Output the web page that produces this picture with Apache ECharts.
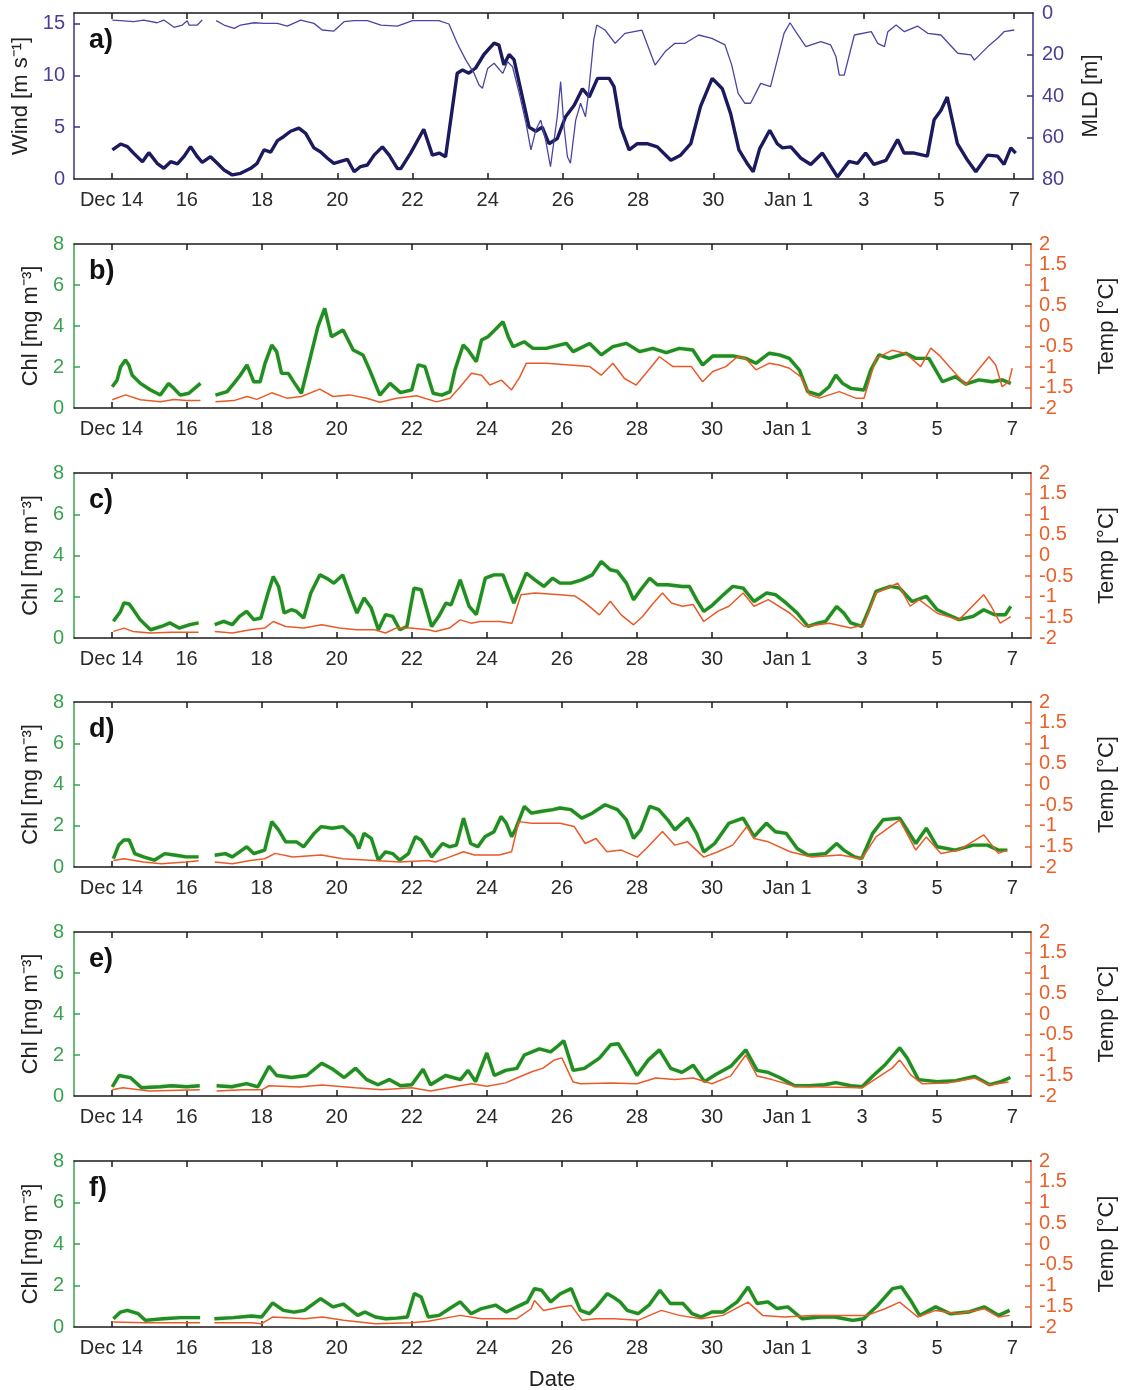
<!DOCTYPE html>
<html><head><meta charset="utf-8">
<script src="https://cdn.jsdelivr.net/npm/echarts@6/dist/echarts.min.js"></script>
<style>html,body{margin:0;padding:0;background:#fff}#chart{width:1126px;height:1390px}</style>
</head><body><div id="chart"></div>
<script>
// x values are days counted from Dec 1 (Jan 1 = 32)
const dayTicks = [14,16,18,20,22,24,26,28,30,32,34,36,38];
const windTicks = [0,5,10,15];
const mldTicks = [0,20,40,60,80];
const chlTicks = [0,2,4,6,8];
const tempTicks = [-2,-1.5,-1,-0.5,0,0.5,1,1.5,2];
const panelNames = ['a)','b)','c)','d)','e)','f)'];

const wind = [[14.02,2.8],[14.24,3.37],[14.42,3.12],[14.59,2.47],[14.82,1.67],[14.99,2.54],[15.21,1.51],[15.39,1.03],[15.57,1.67],[15.75,1.45],[15.92,2.15],[16.1,3.12],[16.28,2.15],[16.41,1.6],[16.63,2.15],[16.81,1.51],[16.99,0.87],[17.21,0.39],[17.43,0.55],[17.7,1.03],[17.87,1.51],[18.05,2.8],[18.23,2.6],[18.41,3.7],[18.58,4.1],[18.76,4.6],[18.98,4.9],[19.16,4.4],[19.38,3.0],[19.56,2.6],[19.74,2.0],[19.91,1.5],[20.09,1.7],[20.27,1.9],[20.45,0.7],[20.62,1.2],[20.8,1.35],[20.98,2.3],[21.2,3.1],[21.38,2.3],[21.6,1.0],[21.69,1.0],[21.95,2.5],[22.3,4.8],[22.53,2.3],[22.71,2.5],[22.88,2.15],[23.19,10.2],[23.33,10.5],[23.5,10.2],[23.68,10.7],[23.9,12.0],[24.17,13.1],[24.3,12.9],[24.43,11.0],[24.57,12.0],[24.7,11.5],[24.88,8.6],[25.1,5.0],[25.28,4.6],[25.45,5.0],[25.63,3.4],[25.85,3.9],[26.07,6.0],[26.3,7.1],[26.52,8.7],[26.7,7.9],[26.92,9.7],[27.23,9.7],[27.36,8.9],[27.54,5.0],[27.76,2.8],[27.98,3.4],[28.24,3.4],[28.51,3.1],[28.87,1.8],[29.13,2.3],[29.4,3.4],[29.66,7.0],[29.97,9.7],[30.24,8.7],[30.46,6.3],[30.68,2.8],[30.9,1.5],[31.06,0.7],[31.23,2.9],[31.5,4.7],[31.7,3.4],[31.84,3.0],[32.06,3.1],[32.33,2.0],[32.59,1.4],[32.9,2.5],[33.3,0.2],[33.61,1.7],[33.83,1.5],[34.05,2.5],[34.27,1.4],[34.59,1.8],[34.9,3.8],[35.07,2.5],[35.34,2.5],[35.69,2.2],[35.87,5.7],[36.05,6.6],[36.22,7.9],[36.49,3.4],[36.76,1.8],[36.98,0.7],[37.29,2.3],[37.56,2.2],[37.73,1.4],[37.91,3.0],[38.04,2.5]];

const mld = [[14.02,3.4],[14.24,3.7],[14.59,4.2],[14.85,3.4],[15.21,4.7],[15.39,3.4],[15.66,6.9],[15.88,5.8],[16.01,3.7],[16.06,5.8],[16.28,5.8],[16.41,3.4],[16.6,null],[16.78,3.7],[16.99,5.8],[17.26,7.4],[17.43,5.8],[17.79,4.7],[18.05,5.0],[18.41,5.0],[18.67,6.3],[19.03,3.4],[19.38,5.0],[19.6,8.2],[19.91,8.7],[20.18,4.2],[20.45,3.7],[20.8,3.7],[21.16,5.8],[21.6,6.3],[22.0,3.7],[22.7,3.7],[22.97,5.3],[23.19,14.6],[23.42,22.7],[23.64,29.1],[23.77,34.7],[23.86,36.3],[24.0,26.7],[24.17,24.2],[24.4,29.1],[24.53,23.5],[24.66,25.9],[24.84,38.7],[25.02,53.2],[25.15,66.0],[25.28,56.4],[25.41,51.6],[25.54,61.2],[25.67,74.1],[25.85,50],[25.94,33.1],[26.03,54.8],[26.12,69.3],[26.2,72.4],[26.34,51.6],[26.47,43.5],[26.6,50],[26.68,38.7],[26.82,13],[26.9,5.8],[27.12,8.2],[27.39,14.6],[27.65,9.8],[28.1,8.2],[28.45,25.1],[28.72,18.6],[28.98,14.6],[29.25,14.6],[29.61,10.6],[29.96,12.2],[30.31,15.4],[30.49,25.1],[30.66,38.7],[30.84,43.5],[30.99,43.5],[31.26,33.9],[31.52,35.5],[31.7,22.7],[31.88,9.8],[32.04,4.7],[32.19,9.0],[32.46,16.2],[32.86,13.8],[33.12,15.4],[33.26,21],[33.35,29.9],[33.48,29.9],[33.75,10.6],[34.2,9.0],[34.37,14.6],[34.55,16.2],[34.64,9.0],[34.86,5.8],[35.08,9.0],[35.43,6.3],[35.7,9.8],[36.05,10.6],[36.5,19.4],[36.85,20.2],[36.94,22.7],[37.3,16.2],[37.56,12.2],[37.73,9.0],[38.0,8.2]];

const chlB = [[14.02,1.04],[14.15,1.37],[14.24,2.0],[14.37,2.34],[14.46,2.1],[14.55,1.6],[14.77,1.2],[15.04,0.88],[15.3,0.63],[15.52,1.2],[15.66,0.96],[15.83,0.63],[16.06,0.72],[16.37,1.2],[16.6,null],[16.77,0.63],[17.08,0.8],[17.26,1.2],[17.43,1.6],[17.61,2.1],[17.79,1.28],[17.96,1.28],[18.09,2.18],[18.27,3.07],[18.4,2.75],[18.53,1.69],[18.71,1.69],[18.88,1.2],[19.06,0.72],[19.28,2.34],[19.5,3.97],[19.68,4.86],[19.86,3.48],[20.17,3.8],[20.44,2.83],[20.7,2.59],[20.88,1.85],[21.15,0.63],[21.42,1.2],[21.7,0.75],[22.0,0.88],[22.17,2.1],[22.35,2.02],[22.57,0.72],[22.8,0.63],[23.02,0.8],[23.15,1.85],[23.37,3.07],[23.5,2.83],[23.72,2.26],[23.86,3.32],[24.03,3.48],[24.21,3.8],[24.43,4.21],[24.57,3.48],[24.7,2.99],[25.0,3.23],[25.23,2.91],[25.58,2.91],[26.12,3.15],[26.3,2.75],[26.74,3.15],[27.05,2.59],[27.36,2.99],[27.72,3.15],[28.07,2.75],[28.42,2.91],[28.78,2.7],[29.13,2.91],[29.49,2.83],[29.75,2.1],[30.02,2.54],[30.55,2.54],[30.9,2.42],[31.17,2.18],[31.52,2.67],[31.79,2.59],[32.06,2.42],[32.33,1.85],[32.55,0.8],[32.86,0.63],[33.12,1.04],[33.3,1.6],[33.48,1.2],[33.7,0.96],[34.05,0.88],[34.23,1.85],[34.45,2.59],[34.72,2.42],[35.16,2.67],[35.43,2.42],[35.78,2.42],[36.14,1.28],[36.49,1.53],[36.76,1.17],[37.11,1.37],[37.47,1.28],[37.73,1.37],[37.96,1.2]];
const tempB = [[14.02,-1.8],[14.37,-1.68],[14.77,-1.8],[15.3,-1.85],[15.66,-1.79],[16.0,-1.82],[16.37,-1.82],[16.6,null],[16.77,-1.85],[17.26,-1.82],[17.61,-1.72],[17.87,-1.79],[18.27,-1.63],[18.67,-1.76],[19.06,-1.72],[19.55,-1.54],[19.9,-1.72],[20.35,-1.68],[20.8,-1.76],[21.15,-1.86],[21.6,-1.76],[22.13,-1.7],[22.66,-1.85],[23.02,-1.76],[23.33,-1.44],[23.59,-1.15],[23.86,-1.2],[24.08,-1.44],[24.39,-1.32],[24.66,-1.56],[24.88,-1.24],[25.05,-0.91],[25.58,-0.91],[26.21,-0.95],[26.74,-0.99],[27.05,-1.2],[27.36,-0.91],[27.67,-1.28],[27.98,-1.44],[28.24,-1.15],[28.6,-0.75],[28.96,-0.99],[29.45,-0.99],[29.75,-1.36],[30.02,-1.11],[30.37,-0.99],[30.68,-0.75],[30.9,-0.79],[31.17,-1.07],[31.52,-0.91],[31.79,-0.95],[32.06,-1.03],[32.37,-1.24],[32.6,-1.68],[32.86,-1.76],[33.39,-1.6],[33.83,-1.76],[34.05,-1.76],[34.37,-0.79],[34.81,-0.59],[35.16,-0.67],[35.56,-0.99],[35.83,-0.54],[36.05,-0.71],[36.32,-0.99],[36.76,-1.44],[37.02,-1.15],[37.38,-0.75],[37.56,-0.95],[37.73,-1.48],[37.91,-1.36],[38.0,-1.03]];

const chlC = [[14.05,0.81],[14.24,1.29],[14.33,1.7],[14.47,1.65],[14.57,1.4],[14.76,0.89],[15.04,0.4],[15.33,0.56],[15.56,0.73],[15.8,0.48],[16.09,0.65],[16.32,0.73],[16.55,null],[16.75,0.65],[16.99,0.81],[17.22,0.65],[17.41,1.05],[17.6,1.29],[17.79,0.89],[17.98,0.97],[18.17,2.18],[18.31,2.98],[18.45,2.5],[18.6,1.21],[18.79,1.37],[18.93,1.29],[19.12,0.97],[19.31,2.18],[19.55,3.06],[19.73,2.9],[19.92,2.66],[20.16,3.06],[20.4,1.85],[20.54,1.21],[20.73,1.94],[20.92,1.45],[21.11,0.4],[21.3,1.13],[21.49,1.05],[21.68,0.4],[21.87,0.56],[22.06,2.42],[22.25,2.34],[22.53,0.56],[22.72,1.05],[22.91,1.69],[23.05,1.61],[23.29,2.82],[23.53,1.53],[23.72,1.13],[23.96,2.9],[24.19,3.06],[24.43,3.06],[24.72,1.69],[25.05,3.15],[25.28,2.82],[25.52,2.5],[25.75,2.9],[25.95,2.66],[26.24,2.66],[26.53,2.82],[26.81,3.06],[27.05,3.71],[27.29,3.31],[27.48,3.23],[27.72,2.66],[27.91,1.85],[28.1,2.34],[28.34,2.9],[28.54,2.58],[28.82,2.58],[29.21,2.5],[29.4,2.5],[29.59,1.85],[29.78,1.29],[29.97,1.53],[30.26,2.02],[30.55,2.5],[30.83,2.42],[31.12,1.77],[31.45,2.18],[31.69,2.1],[31.98,1.69],[32.27,1.21],[32.56,0.56],[32.84,0.73],[33.03,0.81],[33.32,1.53],[33.51,1.21],[33.7,0.73],[33.99,0.56],[34.18,1.37],[34.37,2.26],[34.76,2.5],[35.0,2.42],[35.33,1.77],[35.71,2.02],[36.0,1.37],[36.29,1.13],[36.58,0.89],[36.96,1.05],[37.24,1.37],[37.53,1.13],[37.82,1.13],[37.96,1.53]];
const tempC = [[14.05,-1.84],[14.33,-1.76],[14.57,-1.84],[15.04,-1.88],[15.6,-1.86],[16.32,-1.86],[16.55,null],[16.75,-1.84],[17.22,-1.88],[17.7,-1.8],[18.08,-1.76],[18.31,-1.6],[18.64,-1.72],[19.12,-1.76],[19.6,-1.68],[20.07,-1.76],[20.54,-1.8],[21.01,-1.8],[21.3,-1.88],[21.58,-1.76],[21.96,-1.76],[22.44,-1.8],[22.63,-1.84],[23.0,-1.76],[23.29,-1.56],[23.58,-1.64],[23.82,-1.6],[24.34,-1.6],[24.67,-1.64],[24.91,-0.95],[25.28,-0.91],[25.95,-0.95],[26.34,-0.98],[26.62,-1.15],[27.0,-1.44],[27.29,-1.11],[27.58,-1.44],[27.91,-1.68],[28.15,-1.48],[28.44,-1.15],[28.68,-0.91],[28.92,-1.15],[29.21,-1.23],[29.5,-1.19],[29.78,-1.6],[30.16,-1.35],[30.45,-1.23],[30.83,-0.91],[31.12,-1.23],[31.5,-1.07],[32.08,-1.4],[32.46,-1.72],[33.13,-1.64],[33.7,-1.76],[34.04,-1.68],[34.37,-0.91],[34.95,-0.67],[35.28,-1.23],[35.52,-1.07],[36.0,-1.4],[36.58,-1.56],[37.24,-0.95],[37.44,-1.23],[37.68,-1.64],[37.96,-1.48]];

const chlD = [[14.05,0.41],[14.19,1.06],[14.33,1.31],[14.47,1.31],[14.62,0.65],[14.85,0.49],[15.14,0.33],[15.42,0.65],[15.71,0.57],[15.99,0.49],[16.32,0.49],[16.55,null],[16.75,0.57],[17.03,0.65],[17.22,0.49],[17.6,0.98],[17.79,0.65],[18.08,0.82],[18.27,2.2],[18.45,1.8],[18.64,1.22],[18.93,1.22],[19.12,0.98],[19.4,1.63],[19.59,1.96],[19.88,1.88],[20.16,1.96],[20.45,1.47],[20.59,0.9],[20.73,1.63],[20.92,1.39],[21.11,0.33],[21.3,0.73],[21.49,0.65],[21.68,0.33],[21.91,0.65],[22.1,1.47],[22.25,1.31],[22.53,0.49],[22.82,1.14],[23.0,0.98],[23.19,1.06],[23.38,2.37],[23.57,1.14],[23.76,0.98],[23.95,1.47],[24.19,1.71],[24.38,2.45],[24.52,2.12],[24.66,1.47],[24.76,1.8],[25.0,2.94],[25.19,2.61],[25.43,2.69],[25.76,2.78],[25.95,2.86],[26.24,2.78],[26.53,2.37],[26.81,2.61],[27.15,3.02],[27.48,2.78],[27.72,2.29],[27.91,1.39],[28.1,1.8],[28.34,2.94],[28.58,2.78],[28.82,2.29],[29.01,1.8],[29.35,2.37],[29.59,1.63],[29.78,0.73],[30.07,1.14],[30.45,2.12],[30.83,2.37],[31.12,1.47],[31.45,2.12],[31.69,1.71],[31.98,1.63],[32.27,0.9],[32.56,0.57],[33.03,0.65],[33.32,1.14],[33.51,0.82],[33.8,0.49],[33.99,0.41],[34.28,1.63],[34.56,2.29],[35.0,2.37],[35.43,1.14],[35.71,1.88],[36.0,0.98],[36.48,0.82],[36.96,1.06],[37.34,1.06],[37.63,0.82],[37.87,0.82]];
const tempD = [[14.05,-1.84],[14.33,-1.8],[14.85,-1.88],[15.33,-1.92],[15.99,-1.88],[16.32,-1.85],[16.55,null],[16.75,-1.88],[17.22,-1.92],[17.7,-1.84],[18.08,-1.8],[18.36,-1.67],[18.83,-1.76],[19.59,-1.71],[20.16,-1.8],[21.01,-1.84],[21.68,-1.88],[22.44,-1.84],[22.63,-1.88],[23.0,-1.76],[23.38,-1.63],[23.67,-1.71],[24.33,-1.71],[24.66,-1.63],[24.85,-0.9],[25.19,-0.94],[25.95,-0.94],[26.33,-1.02],[26.62,-1.43],[26.91,-1.31],[27.2,-1.63],[27.58,-1.59],[28.01,-1.76],[28.25,-1.55],[28.68,-1.14],[29.01,-1.47],[29.35,-1.39],[29.78,-1.76],[30.16,-1.63],[30.55,-1.47],[30.93,-1.02],[31.12,-1.31],[31.5,-1.39],[32.08,-1.63],[32.65,-1.76],[33.42,-1.71],[33.99,-1.8],[34.37,-1.27],[35.0,-0.86],[35.43,-1.59],[35.71,-1.27],[36.1,-1.67],[36.58,-1.59],[37.24,-1.22],[37.63,-1.67],[37.87,-1.59]];

const chlE = [[14.02,0.45],[14.2,1.0],[14.5,0.9],[14.8,0.4],[15.3,0.45],[15.6,0.5],[16.0,0.45],[16.35,0.5],[16.55,null],[16.8,0.5],[17.2,0.45],[17.6,0.6],[17.9,0.45],[18.2,1.45],[18.4,1.0],[18.8,0.9],[19.2,1.0],[19.6,1.6],[19.9,1.3],[20.2,0.9],[20.5,1.35],[20.8,0.8],[21.1,0.55],[21.4,0.8],[21.7,0.5],[22.0,0.55],[22.3,1.3],[22.5,0.55],[22.9,1.0],[23.3,0.8],[23.5,1.25],[23.7,0.7],[24.0,2.1],[24.2,1.0],[24.5,1.25],[24.8,1.35],[25.0,2.0],[25.4,2.3],[25.7,2.15],[25.9,2.45],[26.05,2.7],[26.3,1.25],[26.6,1.35],[27.0,1.85],[27.3,2.5],[27.5,2.55],[27.8,1.65],[28.0,1.0],[28.3,1.75],[28.6,2.25],[28.9,1.35],[29.2,1.15],[29.5,1.5],[29.8,0.7],[30.1,1.05],[30.5,1.45],[30.9,2.25],[31.2,1.25],[31.5,1.15],[31.8,0.9],[32.2,0.5],[32.6,0.5],[33.0,0.55],[33.3,0.65],[33.7,0.5],[34.0,0.45],[34.3,1.0],[34.6,1.5],[35.0,2.35],[35.2,1.85],[35.5,0.8],[36.0,0.7],[36.5,0.75],[37.0,0.95],[37.4,0.55],[37.7,0.7],[37.95,0.9]];
const tempE = [[14.02,-1.85],[14.3,-1.8],[15.0,-1.88],[16.35,-1.85],[16.55,null],[16.8,-1.88],[17.5,-1.85],[18.0,-1.85],[18.2,-1.75],[19.0,-1.78],[19.6,-1.73],[20.5,-1.8],[21.2,-1.85],[22.0,-1.8],[22.5,-1.88],[23.2,-1.76],[23.6,-1.7],[24.0,-1.76],[24.5,-1.68],[24.8,-1.56],[25.2,-1.41],[25.5,-1.32],[25.8,-1.12],[26.0,-1.07],[26.3,-1.66],[26.5,-1.7],[27.3,-1.68],[28.0,-1.7],[28.5,-1.56],[29.0,-1.6],[29.5,-1.56],[30.0,-1.7],[30.5,-1.51],[30.9,-1.0],[31.2,-1.51],[31.6,-1.6],[32.2,-1.76],[33.0,-1.78],[34.0,-1.8],[34.4,-1.56],[34.8,-1.32],[35.0,-1.12],[35.3,-1.49],[35.6,-1.7],[36.3,-1.68],[37.0,-1.56],[37.4,-1.73],[37.9,-1.66]];

const chlF = [[14.05,0.4],[14.24,0.72],[14.42,0.8],[14.71,0.64],[14.9,0.32],[15.37,0.4],[15.84,0.45],[16.36,0.45],[16.55,null],[16.74,0.4],[17.25,0.45],[17.73,0.53],[18.0,0.48],[18.29,1.16],[18.58,0.8],[18.86,0.72],[19.14,0.8],[19.57,1.37],[19.9,0.97],[20.18,1.1],[20.56,0.56],[20.75,0.72],[21.03,0.48],[21.31,0.4],[21.6,0.43],[21.88,0.48],[22.07,1.61],[22.25,1.45],[22.44,0.48],[22.73,0.56],[23.01,0.89],[23.29,1.21],[23.58,0.64],[23.86,0.89],[24.24,1.05],[24.52,0.72],[24.8,0.97],[25.08,1.21],[25.27,1.85],[25.46,1.77],[25.7,1.21],[25.96,1.6],[26.25,1.85],[26.49,0.8],[26.73,0.64],[26.92,0.97],[27.21,1.61],[27.36,1.45],[27.55,1.21],[27.74,0.8],[28.03,0.64],[28.32,1.05],[28.61,1.77],[28.89,1.13],[29.23,1.13],[29.47,0.64],[29.71,0.48],[30.0,0.72],[30.29,0.72],[30.67,1.21],[30.96,1.93],[31.2,1.13],[31.49,1.21],[31.73,0.89],[32.02,0.97],[32.4,0.4],[32.88,0.48],[33.27,0.48],[33.75,0.32],[34.04,0.4],[34.42,1.05],[34.81,1.85],[35.05,1.93],[35.29,1.29],[35.53,0.56],[35.96,0.97],[36.35,0.64],[36.83,0.72],[37.26,0.97],[37.64,0.56],[37.93,0.8]];
const tempF = [[14.05,-1.88],[14.9,-1.9],[16.36,-1.9],[16.55,null],[16.74,-1.9],[17.73,-1.9],[18.0,-1.92],[18.29,-1.76],[19.14,-1.8],[19.62,-1.76],[20.18,-1.84],[21.03,-1.92],[21.97,-1.9],[22.44,-1.86],[23.29,-1.72],[23.86,-1.8],[24.8,-1.8],[25.18,-1.56],[25.27,-1.36],[25.51,-1.6],[25.96,-1.52],[26.25,-1.48],[26.54,-1.84],[26.92,-1.8],[27.4,-1.8],[28.03,-1.84],[28.65,-1.6],[29.13,-1.72],[29.71,-1.8],[30.29,-1.72],[30.96,-1.4],[31.35,-1.72],[31.92,-1.76],[32.69,-1.72],[33.65,-1.72],[34.13,-1.72],[34.61,-1.56],[35.0,-1.4],[35.48,-1.76],[35.96,-1.6],[36.54,-1.68],[37.26,-1.56],[37.64,-1.76],[37.93,-1.72]];

const chlSeries = [chlB, chlC, chlD, chlE, chlF];
const tempSeries = [tempB, tempC, tempD, tempE, tempF];

const FONT = '"Liberation Sans", Arial, Helvetica, sans-serif';
const tops = [13, 244, 473, 702, 932, 1161];
const heights = [166, 164, 165, 165, 164, 166];
const NAVY = '#3a3382', NAVYTXT = '#4a3f92';
const GREEN = '#37a24f', ORANGE = '#e9602b';
const LBL = 20;

function fmtDay(v) {
  if (v === 14) return 'Dec 14';
  if (v === 32) return 'Jan 1';
  if (v > 32) return String(v - 31);
  return String(v);
}

const grid = [], xAxis = [], yAxis = [], series = [], graphic = [];
tops.forEach((t, i) => {
  grid.push({left: 74, right: 93, top: t, height: heights[i], containLabel: false});
  const common = {gridIndex: i, type: 'value', min: 13, max: 38.5, splitLine: {show: false}};
  xAxis.push(Object.assign({}, common, {
    position: 'bottom',
    axisLine: {show: true, onZero: false, lineStyle: {color: '#1a1a1a', width: 1.5}},
    axisTick: {show: true, inside: true, length: 6, customValues: dayTicks, lineStyle: {color: '#1a1a1a', width: 1.5}},
    axisLabel: {show: true, customValues: dayTicks, formatter: fmtDay, fontSize: LBL, color: '#2a2a2a', margin: 11, fontFamily: FONT}
  }));
  xAxis.push(Object.assign({}, common, {
    position: 'top',
    axisLine: {show: true, onZero: false, lineStyle: {color: '#1a1a1a', width: 1.5}},
    axisTick: {show: true, inside: true, length: 6, customValues: dayTicks, lineStyle: {color: '#1a1a1a', width: 1.5}},
    axisLabel: {show: false}
  }));
  if (i === 0) {
    yAxis.push({gridIndex: 0, type: 'value', min: 0, max: 16, position: 'left', splitLine: {show: false},
      axisLine: {show: true, onZero: false, lineStyle: {color: NAVY, width: 1.5}},
      axisTick: {show: true, inside: true, length: 6, customValues: [5, 10, 15], lineStyle: {color: NAVY, width: 1.5}},
      axisLabel: {customValues: windTicks, color: NAVYTXT, fontSize: LBL, margin: 9, fontFamily: FONT},
      name: 'Wind [m s\u207B\u00B9]', nameLocation: 'middle', nameRotate: 90, nameGap: 41,
      nameTextStyle: {fontSize: 22, color: '#222', fontFamily: FONT}});
    yAxis.push({gridIndex: 0, type: 'value', min: 0, max: 80, inverse: true, position: 'right', splitLine: {show: false},
      axisLine: {show: true, onZero: false, lineStyle: {color: NAVY, width: 1.5}},
      axisTick: {show: true, inside: true, length: 6, customValues: [20, 40, 60], lineStyle: {color: NAVY, width: 1.5}},
      axisLabel: {customValues: mldTicks, color: NAVYTXT, fontSize: LBL, margin: 9, fontFamily: FONT},
      name: 'MLD [m]', nameLocation: 'middle', nameRotate: 90, nameGap: 47,
      nameTextStyle: {fontSize: 22, color: '#222', fontFamily: FONT}});
    series.push({type: 'line', xAxisIndex: 0, yAxisIndex: 0, data: wind, showSymbol: false, symbol: 'none',
      lineStyle: {width: 3.4, color: '#1c1a5e'}, z: 2, animation: false});
    series.push({type: 'line', xAxisIndex: 0, yAxisIndex: 1, data: mld, showSymbol: false, symbol: 'none',
      lineStyle: {width: 1.3, color: '#4a45a2'}, z: 3, animation: false});
  } else {
    yAxis.push({gridIndex: i, type: 'value', min: 0, max: 8, position: 'left', splitLine: {show: false},
      axisLine: {show: true, onZero: false, lineStyle: {color: GREEN, width: 1.5}},
      axisTick: {show: true, inside: true, length: 6, customValues: [2, 4, 6], lineStyle: {color: GREEN, width: 1.5}},
      axisLabel: {customValues: chlTicks, color: GREEN, fontSize: LBL, margin: 10, fontFamily: FONT},
      name: 'Chl [mg m\u207B\u00B3]', nameLocation: 'middle', nameRotate: 90, nameGap: 28,
      nameTextStyle: {fontSize: 22, color: '#222', fontFamily: FONT}});
    yAxis.push({gridIndex: i, type: 'value', min: -2, max: 2, position: 'right', splitLine: {show: false},
      axisLine: {show: true, onZero: false, lineStyle: {color: ORANGE, width: 1.5}},
      axisTick: {show: true, inside: true, length: 6, customValues: [-1.5, -1, -0.5, 0, 0.5, 1, 1.5], lineStyle: {color: ORANGE, width: 1.5}},
      axisLabel: {customValues: tempTicks, color: ORANGE, fontSize: LBL, margin: 8, fontFamily: FONT},
      name: 'Temp [\u00B0C]', nameLocation: 'middle', nameRotate: 90, nameGap: 65,
      nameTextStyle: {fontSize: 22, color: '#222', fontFamily: FONT}});
    series.push({type: 'line', xAxisIndex: 2 * i, yAxisIndex: 2 * i, data: chlSeries[i - 1], showSymbol: false, symbol: 'none',
      lineStyle: {width: 3.4, color: '#1f8d2b', shadowColor: 'rgba(190,210,40,0.55)', shadowBlur: 2}, z: 2, animation: false});
    series.push({type: 'line', xAxisIndex: 2 * i, yAxisIndex: 2 * i + 1, data: tempSeries[i - 1], showSymbol: false, symbol: 'none',
      lineStyle: {width: 1.5, color: '#ea5a28'}, z: 3, animation: false});
  }
  graphic.push({type: 'text', x: 89, y: t + 14, z: 10,
    style: {text: panelNames[i], font: 'bold 27px ' + FONT, fill: '#111', align: 'left', verticalAlign: 'top'}});
});
graphic.push({type: 'text', x: 552, y: 1380, z: 10,
  style: {text: 'Date', font: '22px ' + FONT, fill: '#222', align: 'center', verticalAlign: 'middle'}});

const chart = echarts.init(document.getElementById('chart'), null, {renderer: 'canvas'});
chart.setOption({
  backgroundColor: '#ffffff',
  animation: false,
  textStyle: {fontFamily: FONT},
  grid, xAxis, yAxis, series, graphic
});
</script>
</body></html>
